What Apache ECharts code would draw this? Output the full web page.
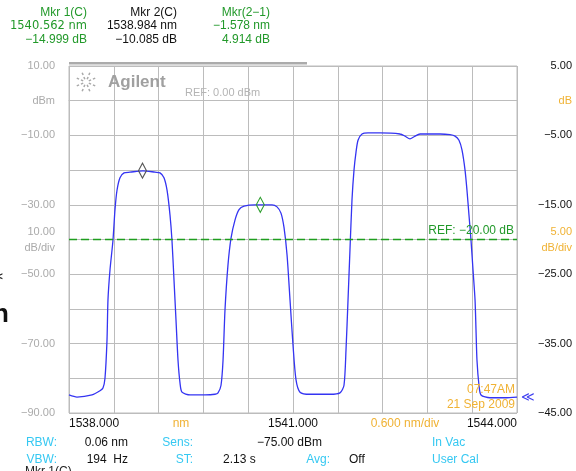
<!DOCTYPE html>
<html lang="en" style="height: 100%">
<head>
  <meta charset="utf-8">
  <title>Optical spectrum</title>
</head>
<body style="height: 100%; margin: 0; background: #fff;">
  <div id="container" style="width: 576px; height: 471px;"></div>

  <script type="text/javascript" src="https://cdn.jsdelivr.net/npm/echarts@6/dist/echarts.min.js"></script>
  <script type="text/javascript">
    // trace: wavelength (nm) and level (dB, right scale)
    var wavelengthNm = [
      1538.000, 1538.107, 1538.308, 1538.415, 1538.455, 1538.482, 1538.509, 1538.522, 1538.549, 1538.589,
      1538.616, 1538.643, 1538.683, 1538.737, 1538.817, 1538.991, 1539.152, 1539.219, 1539.272, 1539.313,
      1539.353, 1539.379, 1539.406, 1539.433, 1539.460, 1539.487, 1539.513, 1539.621, 1539.821, 1539.955,
      1539.996, 1540.036, 1540.063, 1540.089, 1540.129, 1540.170, 1540.223, 1540.277, 1540.344, 1540.491,
      1540.571, 1540.719, 1540.786, 1540.839, 1540.880, 1540.920, 1540.960, 1541.000, 1541.040, 1541.094,
      1541.228, 1541.496, 1541.629, 1541.683, 1541.710, 1541.737, 1541.763, 1541.790, 1541.817, 1541.844,
      1541.871, 1541.924, 1542.005, 1542.166, 1542.433, 1542.500, 1542.567, 1542.621, 1542.701, 1542.969,
      1543.103, 1543.170, 1543.223, 1543.263, 1543.304, 1543.330, 1543.357, 1543.384, 1543.411, 1543.438,
      1543.451, 1543.464, 1543.491, 1543.518, 1543.638, 1543.839, 1544.000
    ];
    var traceDb = [
      -42.4, -42.7, -42.4, -41.8, -41.4, -40.0, -34.5, -28.7, -24.4, -20.1,
      -15.7, -12.9, -11.1, -10.4, -10.3, -10.1, -10.3, -10.4, -11.1, -12.9,
      -16.5, -20.1, -25.8, -31.6, -37.4, -40.7, -42.0, -42.4, -42.4, -42.3,
      -42.1, -41.0, -37.4, -30.2, -23.7, -19.8, -17.2, -15.7, -15.2, -15.0,
      -15.0, -15.0, -15.3, -16.2, -18.3, -22.2, -28.7, -35.2, -40.2, -42.0,
      -42.3, -42.3, -42.1, -41.0, -35.9, -28.7, -21.5, -14.3, -10.0, -7.4,
      -5.7, -4.8, -4.65, -4.65, -4.8, -5.1, -5.5, -5.2, -4.8, -4.8,
      -4.9, -5.1, -5.7, -7.1, -10.0, -12.9, -16.5, -20.1, -24.4, -28.7,
      -33.0, -37.4, -41.0, -42.4, -42.8, -42.8, -42.7
    ];

    var markerNm = [1540.562, 1538.984];
    var markerDb = [-14.999, -10.085];
    var markerColor = ['#2e9e2e', '#555555'];

    var startNm = 1538;
    var xLabelNm = [1538, 1539.5, 1541, 1542.5, 1544];
    var xLabelText = ['1538.000', 'nm', '1541.000', '0.600 nm/div', '1544.000'];
    var refDb = -20;

    var gridColor = '#bcbcbc';
    var orange = '#f0b234';
    var cyan = '#35c8f2';
    var green = '#22992a';

    var lineData = wavelengthNm.map(function (w, i) {
      return [+(w - startNm).toFixed(3), traceDb[i]];
    });

    function fmt(v) {
      return (v < 0 ? '\u2212' : '') + Math.abs(v).toFixed(2);
    }

    function txt(s, x, y, color, o) {
      o = o || {};
      return {
        type: 'text', silent: true, z: 10,
        style: {
          text: s, x: x, y: y, fill: color,
          font: (o.bold ? 'bold ' : '') + (o.size || 12) + 'px ' + (o.family || '"Liberation Sans", Arial, sans-serif'),
          textAlign: o.align || 'left',
          textVerticalAlign: o.valign || 'middle'
        }
      };
    }

    var graphics = [
      { type: 'rect', silent: true, shape: { x: 69, y: 62, width: 238, height: 2.5 }, style: { fill: '#ababab' } },
      txt('Agilent', 108, 82, '#a0a0a0', { bold: true, size: 17 }),
      txt('REF: 0.00 dBm', 185, 93, '#b4b4b4', { size: 11 }),

      txt('Mkr 1(C)', 87, 13, green, { align: 'right' }),
      txt('1540.562 nm', 87, 26, green, { align: 'right', size: 11.5, family: '"DejaVu Sans", sans-serif' }),
      txt('\u221214.999 dB', 87, 40, green, { align: 'right' }),
      txt('Mkr 2(C)', 177, 13, '#111', { align: 'right' }),
      txt('1538.984 nm', 177, 26, '#111', { align: 'right' }),
      txt('\u221210.085 dB', 177, 40, '#111', { align: 'right' }),
      txt('Mkr(2\u22121)', 270, 13, green, { align: 'right' }),
      txt('\u22121.578 nm', 270, 26, green, { align: 'right' }),
      txt('4.914 dB', 270, 40, green, { align: 'right' }),

      txt('07:47AM', 515, 390, orange, { align: 'right' }),
      txt('21 Sep 2009', 515, 405, orange, { align: 'right' }),
      txt('\u226A', 521, 397, '#4040f0', { size: 13 }),

      txt('RBW:', 57, 443, cyan, { align: 'right' }),
      txt('0.06 nm', 128, 443, '#111', { align: 'right' }),
      txt('Sens:', 193, 443, cyan, { align: 'right' }),
      txt('\u221275.00 dBm', 257, 443, '#111'),
      txt('In Vac', 432, 443, cyan),
      txt('VBW:', 57, 460, cyan, { align: 'right' }),
      txt('194  Hz', 128, 460, '#111', { align: 'right' }),
      txt('ST:', 193, 460, cyan, { align: 'right' }),
      txt('2.13 s', 223, 460, '#111'),
      txt('Avg:', 330, 460, cyan, { align: 'right' }),
      txt('Off', 349, 460, '#111'),
      txt('User Cal', 432, 460, cyan),
      txt('Mkr 1(C)', 25, 466, '#222', { valign: 'top' }),

      txt('n', -7, 328, '#111', { bold: true, size: 26, valign: 'bottom' }),
      txt('<', -3, 277, '#222', { bold: true, size: 10 })
    ];

    // Agilent spark logo
    for (var k = 0; k < 8; k++) {
      var a = k * Math.PI / 4 + Math.PI / 8;
      graphics.push({
        type: 'line', silent: true,
        shape: { x1: 86 + 3 * Math.cos(a), y1: 82 + 3 * Math.sin(a), x2: 86 + 12 * Math.cos(a), y2: 82 + 12 * Math.sin(a) },
        style: { stroke: '#a8a8a8', lineWidth: 1.5, lineDash: [2.5, 2] }
      });
    }

    var dom = document.getElementById('container');
    var myChart = echarts.init(dom, null, { renderer: 'canvas' });

    var option = {
      backgroundColor: '#ffffff',
      animation: false,
      grid: { left: 69, right: 59, top: 66, bottom: 58, show: true, borderColor: gridColor, borderWidth: 1 },
      xAxis: {
        type: 'value', min: 0, max: 6, interval: 0.6,
        axisLine: { show: true, lineStyle: { color: gridColor } },
        axisTick: { show: false },
        splitLine: { show: true, lineStyle: { color: gridColor, width: 1 } },
        axisLabel: {
          margin: 5,
          customValues: xLabelNm.map(function (w) { return w - startNm; }),
          alignMinLabel: 'left',
          alignMaxLabel: 'right',
          fontFamily: '"Liberation Sans", Arial, sans-serif',
          fontSize: 12,
          color: '#111',
          formatter: function (v) {
            for (var i = 0; i < xLabelNm.length; i++) {
              if (Math.abs(v - (xLabelNm[i] - startNm)) < 1e-6) {
                return (i === 1 || i === 3) ? '{o|' + xLabelText[i] + '}' : xLabelText[i];
              }
            }
            return '';
          },
          rich: { o: { color: orange, fontSize: 12, fontFamily: '"Liberation Sans", Arial, sans-serif' } }
        }
      },
      yAxis: [
        {
          type: 'value', min: -90, max: 10, interval: 10, position: 'left',
          axisLine: { show: false }, axisTick: { show: false },
          splitLine: { show: true, lineStyle: { color: gridColor, width: 1 } },
          axisLabel: {
            interval: 0, margin: 14, color: '#aaaaaa', fontSize: 11,
            fontFamily: '"Liberation Sans", Arial, sans-serif',
            lineHeight: 16,
            formatter: function (v) {
              if (v === 0) return 'dBm';
              if (v === -40) return '10.00\ndB/div';
              if ((v + 90) % 20 === 0) return fmt(v);
              return '';
            }
          }
        },
        {
          type: 'value', min: -45, max: 5, interval: 5, position: 'right',
          axisLine: { show: false }, axisTick: { show: false }, splitLine: { show: false },
          axisLabel: {
            interval: 0, margin: 55, align: 'right', color: '#111', fontSize: 11,
            fontFamily: '"Liberation Sans", Arial, sans-serif',
            formatter: function (v) {
              if (v === 0) return '{o|dB}';
              if (v === -20) return '{o|5.00}\n{o|dB/div}';
              if ((v + 45) % 10 === 0) return fmt(v);
              return '';
            },
            rich: { o: { color: orange, fontSize: 11, lineHeight: 16, fontFamily: '"Liberation Sans", Arial, sans-serif' } }
          }
        }
      ],
      graphic: graphics,
      series: [
        {
          type: 'line',
          yAxisIndex: 1,
          data: lineData,
          showSymbol: false,
          smooth: 0.25,
          lineStyle: { color: '#3434f2', width: 1.3 },
          markLine: {
            silent: true,
            symbol: 'none',
            lineStyle: { color: '#1f9e1f', type: [8, 4], width: 1.3, opacity: 1 },
            label: {
              position: 'insideEndTop', distance: 3,
              color: green, fontSize: 12, fontFamily: '"Liberation Sans", Arial, sans-serif',
              formatter: 'REF: \u221220.00 dB'
            },
            emphasis: { disabled: true },
            data: [{ yAxis: refDb }]
          },
          markPoint: {
            silent: true,
            symbol: 'diamond',
            symbolSize: [8, 15],
            label: { show: false },
            data: markerNm.map(function (w, i) {
              return {
                coord: [w - startNm, markerDb[i]],
                itemStyle: { color: 'rgba(0,0,0,0)', borderColor: markerColor[i], borderWidth: 1.2 }
              };
            })
          }
        }
      ]
    };

    myChart.setOption(option);
    window.addEventListener('resize', myChart.resize);
  </script>
</body>
</html>
